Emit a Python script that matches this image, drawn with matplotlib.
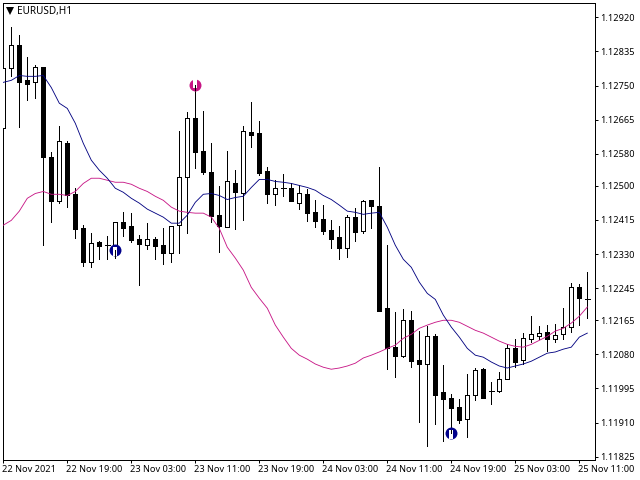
import matplotlib
matplotlib.use("Agg")
import matplotlib.pyplot as plt
from matplotlib.path import Path
from matplotlib.transforms import ScaledTranslation
import numpy as np

symbol_label = "EURUSD,H1"

highs = [1.12872, 1.12895, 1.12875, 1.12820, 1.12800, 1.12795, 1.12584, 1.12648, 1.12611, 1.12494,
         1.12402, 1.12382, 1.12362, 1.12374, 1.12409, 1.12434, 1.12432, 1.12377, 1.12407, 1.12372,
         1.12394, 1.12399, 1.12636, 1.12683, 1.12740, 1.12686, 1.12608, 1.12499, 1.12588, 1.12539,
         1.12648, 1.12708, 1.12661, 1.12546, 1.12514, 1.12529, 1.12506, 1.12501, 1.12491, 1.12466,
         1.12452, 1.12414, 1.12399, 1.12427, 1.12444, 1.12466, 1.12466, 1.12546, 1.12352, 1.12185,
         1.12193, 1.12188, 1.12138, 1.12150, 1.12130, 1.12053, 1.11981, 1.11968, 1.12031, 1.12046,
         1.12046, 1.12011, 1.12036, 1.12105, 1.12118, 1.12133, 1.12175, 1.12150, 1.12153, 1.12155,
         1.12195, 1.12257, 1.12255, 1.12285]
lows = [1.12643, 1.12775, 1.12646, 1.12713, 1.12720, 1.12352, 1.12409, 1.12457, 1.12447, 1.12369,
        1.12300, 1.12297, 1.12317, 1.12317, 1.12320, 1.12374, 1.12359, 1.12252, 1.12342, 1.12317,
        1.12305, 1.12310, 1.12332, 1.12382, 1.12544, 1.12529, 1.12409, 1.12335, 1.12397, 1.12392,
        1.12414, 1.12596, 1.12526, 1.12457, 1.12452, 1.12474, 1.12462, 1.12442, 1.12412, 1.12397,
        1.12379, 1.12344, 1.12317, 1.12322, 1.12362, 1.12382, 1.12394, 1.12188, 1.12043, 1.12023,
        1.12073, 1.12048, 1.11911, 1.11851, 1.11906, 1.11864, 1.11891, 1.11909, 1.11874, 1.11966,
        1.11971, 1.11956, 1.11986, 1.12018, 1.12048, 1.12056, 1.12110, 1.12118, 1.12088, 1.12110,
        1.12118, 1.12135, 1.12153, 1.12170]
opens = [1.12643, 1.12793, 1.12852, 1.12763, 1.12758, 1.12795, 1.12571, 1.12462, 1.12608, 1.12479,
         1.12394, 1.12310, 1.12359, 1.12352, 1.12344, 1.12409, 1.12399, 1.12367, 1.12352, 1.12367,
         1.12352, 1.12332, 1.12402, 1.12521, 1.12668, 1.12588, 1.12534, 1.12427, 1.12397, 1.12506,
         1.12481, 1.12633, 1.12631, 1.12536, 1.12479, 1.12494, 1.12494, 1.12457, 1.12479, 1.12434,
         1.12417, 1.12389, 1.12372, 1.12344, 1.12422, 1.12387, 1.12464, 1.12449, 1.12195, 1.12098,
         1.12076, 1.12165, 1.12066, 1.12056, 1.12125, 1.11986, 1.11971, 1.11949, 1.11919, 1.11978,
         1.12043, 1.11988, 1.11988, 1.12018, 1.12095, 1.12066, 1.12118, 1.12125, 1.12135, 1.12118,
         1.12130, 1.12148, 1.12247, 1.12217]
closes = [1.12793, 1.12852, 1.12760, 1.12755, 1.12795, 1.12571, 1.12462, 1.12611, 1.12476, 1.12392,
          1.12310, 1.12357, 1.12349, 1.12352, 1.12409, 1.12394, 1.12364, 1.12354, 1.12367, 1.12349,
          1.12332, 1.12399, 1.12521, 1.12668, 1.12584, 1.12534, 1.12424, 1.12399, 1.12511, 1.12484,
          1.12636, 1.12628, 1.12531, 1.12479, 1.12494, 1.12494, 1.12462, 1.12481, 1.12432, 1.12412,
          1.12387, 1.12367, 1.12344, 1.12422, 1.12384, 1.12462, 1.12449, 1.12188, 1.12095, 1.12076,
          1.12165, 1.12063, 1.12056, 1.12125, 1.11978, 1.11968, 1.11946, 1.11916, 1.11978, 1.12041,
          1.11971, 1.11988, 1.12018, 1.12095, 1.12061, 1.12120, 1.12130, 1.12133, 1.12118, 1.12128,
          1.12148, 1.12247, 1.12220, 1.12217]

ma_blue = [1.12758, 1.12763, 1.12775, 1.12773, 1.12773, 1.12775, 1.12745, 1.12706, 1.12693, 1.12656,
           1.12606, 1.12564, 1.12539, 1.12519, 1.12494, 1.12484, 1.12469, 1.12457, 1.12442, 1.12432,
           1.12422, 1.12407, 1.12407, 1.12427, 1.12459, 1.12479, 1.12481, 1.12476, 1.12466, 1.12471,
           1.12474, 1.12496, 1.12516, 1.12516, 1.12511, 1.12509, 1.12506, 1.12501, 1.12496, 1.12489,
           1.12476, 1.12466, 1.12452, 1.12437, 1.12434, 1.12429, 1.12432, 1.12434, 1.12397, 1.12352,
           1.12317, 1.12297, 1.12260, 1.12232, 1.12217, 1.12178, 1.12148, 1.12123, 1.12095, 1.12078,
           1.12073, 1.12061, 1.12051, 1.12046, 1.12051, 1.12056, 1.12063, 1.12073, 1.12083, 1.12086,
           1.12093, 1.12098, 1.12123, 1.12133]
ma_pink = [1.12402, 1.12414, 1.12437, 1.12469, 1.12481, 1.12486, 1.12479, 1.12479, 1.12476, 1.12486,
           1.12506, 1.12519, 1.12519, 1.12514, 1.12509, 1.12509, 1.12504, 1.12494, 1.12486, 1.12474,
           1.12464, 1.12447, 1.12437, 1.12434, 1.12432, 1.12432, 1.12422, 1.12394, 1.12347, 1.12320,
           1.12290, 1.12247, 1.12220, 1.12195, 1.12153, 1.12123, 1.12095, 1.12078, 1.12068, 1.12056,
           1.12048, 1.12043, 1.12046, 1.12051, 1.12058, 1.12071, 1.12078, 1.12086, 1.12095, 1.12103,
           1.12120, 1.12130, 1.12145, 1.12153, 1.12160, 1.12165, 1.12165, 1.12160, 1.12150, 1.12140,
           1.12133, 1.12123, 1.12113, 1.12105, 1.12100, 1.12098, 1.12105, 1.12115, 1.12125, 1.12138,
           1.12145, 1.12158, 1.12175, 1.12198]

# signal arrows
buy_bars = [14, 56]
buy_prices = [1.12340, 1.11884]
sell_bars = [24]
sell_prices = [1.12752]

price_ticks = [1.12920, 1.12835, 1.12750, 1.12665, 1.12580, 1.12500, 1.12415, 1.12330,
               1.12245, 1.12165, 1.12080, 1.11995, 1.11910, 1.11825]
time_tick_bars = [0, 8, 16, 24, 32, 40, 48, 56, 64, 72]
time_tick_labels = ["22 Nov 2021", "22 Nov 19:00", "23 Nov 03:00", "23 Nov 11:00", "23 Nov 19:00",
                    "24 Nov 03:00", "24 Nov 11:00", "24 Nov 19:00", "25 Nov 03:00", "25 Nov 11:00"]

plt.rcParams["font.family"] = ["Noto Sans", "DejaVu Sans"]
plt.rcParams["font.size"] = 6.6

W, H = 640, 480
px = 0.72  # one pixel in points at dpi 100

fig = plt.figure(figsize=(W / 100, H / 100), dpi=100, facecolor="white")
ax = fig.add_axes([2.5 / W, 1 - 459.5 / H, (594.5 - 2.5) / W, (459.5 - 2.5) / H])

bars = np.arange(len(opens))
o, h, l, c = map(np.array, (opens, highs, lows, closes))
up = c > o
flat = c == o
tops = np.maximum(o, c)
bots = np.minimum(o, c)

ax.vlines(bars, l, h, colors="black", linewidth=px, antialiased=False, zorder=2)
ax.bar(bars[up], (tops - bots)[up], bottom=bots[up], width=0.5, facecolor="white",
       edgecolor="black", linewidth=px, antialiased=False, zorder=3)
ax.bar(bars[~up & ~flat], (tops - bots)[~up & ~flat], bottom=bots[~up & ~flat], width=0.5,
       facecolor="black", edgecolor="black", linewidth=px, antialiased=False, zorder=3)
ax.hlines(o[flat], bars[flat] - 0.3, bars[flat] + 0.3, colors="black", linewidth=px,
          antialiased=False, zorder=3)

# the indicator glyph: a disc split by a slit, open below for buys and above for sells
slit_below = Path([(-0.28, -1), (0.28, -1), (0.28, 0.5), (-0.28, 0.5), (-0.28, -1)], closed=True)
slit_above = Path([(-0.28, 1), (0.28, 1), (0.28, -0.5), (-0.28, -0.5), (-0.28, 1)], closed=True)
ax.plot(buy_bars, buy_prices, "o", color="#00008B", markersize=8.6, markeredgewidth=0, zorder=3.2)
ax.plot(buy_bars, buy_prices, linestyle="none", marker=slit_below, color="white",
        markersize=8.8, markeredgewidth=0, zorder=3.3)
ax.plot(sell_bars, sell_prices, "o", color="#C71585", markersize=8.6, markeredgewidth=0, zorder=3.2)
ax.plot(sell_bars, sell_prices, linestyle="none", marker=slit_above, color="white",
        markersize=8.8, markeredgewidth=0, zorder=3.3)
# wicks show through the slits
ax.vlines(buy_bars, l[buy_bars], buy_prices, colors="black", linewidth=px, antialiased=False, zorder=3.4)
ax.vlines(sell_bars, sell_prices, h[sell_bars], colors="black", linewidth=px, antialiased=False, zorder=3.4)

ax.plot(bars, ma_pink, color="#C71585", linewidth=0.62, zorder=4)
ax.plot(bars, ma_blue, color="#000080", linewidth=0.62, zorder=4)

ax.set_xlim(-0.10, 73.90)
ax.set_ylim(1.11818, 1.12957)

ax.yaxis.tick_right()
ax.set_yticks(price_ticks)
ax.set_yticklabels([f"{p:.5f}" for p in price_ticks])
ax.tick_params(axis="y", length=2.2, width=px, pad=2.2, labelsize=6.6)
ax.set_xticks(time_tick_bars)
ax.set_xticklabels(time_tick_labels, ha="left")
ax.tick_params(axis="x", length=2.2, width=px, pad=1.6, labelsize=6.6)
shift = ScaledTranslation(-1.5 / 100, 0, fig.dpi_scale_trans)
for lab in ax.get_xticklabels():
    lab.set_transform(lab.get_transform() + shift)

for s in ax.spines.values():
    s.set_linewidth(px)
    s.set_color("black")

ax.plot([0.0125], [0.981], "v", color="black", markersize=5.2, markeredgewidth=0,
        transform=ax.transAxes, zorder=7)
ax.text(0.0245, 0.981, symbol_label, transform=ax.transAxes, ha="left", va="center",
        fontsize=7.2, color="black", zorder=7)

fig.savefig("out.png", dpi=100, facecolor="white")
